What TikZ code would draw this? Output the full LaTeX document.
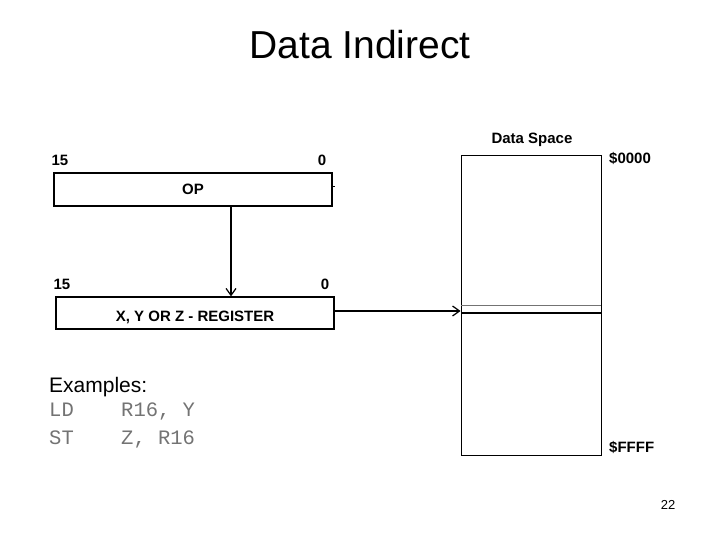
\documentclass[tikz,border=0pt]{standalone}
\usepackage{fontspec}
\setmainfont{Liberation Sans}
\newfontfamily\codefont{Liberation Mono}
\usetikzlibrary{arrows.meta}
\tikzset{
  regbox/.style={draw, line width=1.2pt, inner sep=0pt},
  lbl/.style={font=\fontsize{15}{17}\selectfont\bfseries, inner sep=0pt},
  code/.style={font=\fontsize{20.5}{22}\selectfont\codefont, text=black!55, inner sep=0pt, anchor=base west},
  conn/.style={line width=1.2pt, -{Straight Barb[length=7pt,width=10pt,line width=1.2pt]}}
}
\begin{document}
\begin{tikzpicture}[x=1pt,y=-1pt]
\useasboundingbox (0,0) rectangle (720,540);
% title
\node[font=\fontsize{39}{44}\selectfont, inner sep=0pt] (title) at (360,45) {Data Indirect};
% OP box
\node[regbox, minimum width=278pt, minimum height=33pt] (op) at (193,189.5) {};
\node[lbl] (optxt) at (193,189) {OP};
\node[lbl] (op15) at (60,160) {15};
\node[lbl] (op0) at (322,160) {0};
\coordinate (tickA) at (332,187);
\coordinate (tickB) at (335,187);
\draw[line width=1pt] (tickA) -- (tickB);
% register box
\node[regbox, minimum width=278pt, minimum height=32pt] (reg) at (195,313) {};
\node[lbl] (regtxt) at (195,317) {X, Y OR Z - REGISTER};
\node[lbl] (reg15) at (62,284) {15};
\node[lbl] (reg0) at (325,284) {0};
% arrow OP -> reg
\draw[conn] (op.south -| 231,0) -- (reg.north -| 231,0);
% data space
\node[draw, line width=0.9pt, minimum width=140pt, minimum height=300pt, inner sep=0pt] (ds) at (531,305) {};
\node[lbl] (dstitle) at (532,140) {Data Space};
\node[lbl, anchor=west] (d0) at (609,158) {\$0000};
\node[lbl, anchor=west] (dF) at (609,447) {\$FFFF};
\coordinate (gA) at (461,305.5);
\coordinate (gB) at (601,305.5);
\draw[line width=0.8pt, black!55] (gA) -- (gB);
\coordinate (kA) at (461,313);
\coordinate (kB) at (601,313);
\draw[line width=2pt] (kA) -- (kB);
% arrow reg -> data space
\draw[conn] (reg.east |- 0,311) -- (ds.west |- 0,311);
% examples
\node[font=\fontsize{21}{24}\selectfont, inner sep=0pt, anchor=base west] (ex) at (49,392) {Examples:};
\node[code] (c1a) at (49,416) {LD};
\node[code] (c1b) at (121,416) {R16, Y};
\node[code] (c2a) at (49,444) {ST};
\node[code] (c2b) at (121,444) {Z, R16};
% page number
\node[font=\fontsize{13}{15}\selectfont, inner sep=0pt] (pg) at (668,505) {22};
\end{tikzpicture}
\end{document}
